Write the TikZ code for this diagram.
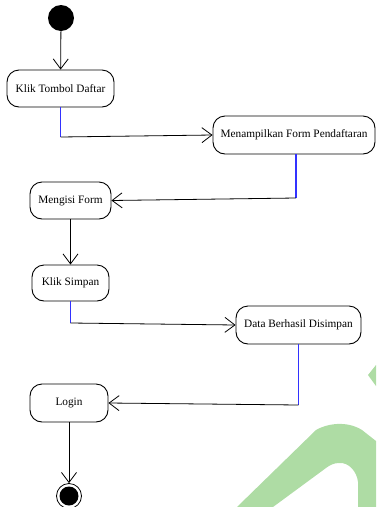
\documentclass[tikz,border=0pt]{standalone}
\usepackage{fontspec}
\setmainfont{Liberation Serif}
\usetikzlibrary{arrows.meta}

\definecolor{flowblue}{RGB}{50,50,255}
\definecolor{markgreen}{RGB}{174,220,164}

\tikzset{
  activity/.style={draw=black, line width=0.9pt, rounded corners=12pt,
    inner sep=0pt, font=\fontsize{11.3}{13}\selectfont},
  flow/.style={draw=black, line width=0.8pt,
    -{Straight Barb[length=10pt,width=15pt,line width=0.8pt]}},
  stub/.style={draw=flowblue, line width=1.2pt},
  startnode/.style={circle, fill=black, inner sep=0pt, minimum size=26pt},
  endring/.style={circle, draw=black, line width=0.8pt, fill=white, inner sep=0pt, minimum size=25pt},
  enddot/.style={circle, fill=black, inner sep=0pt, minimum size=19pt},
}

\begin{document}
\begin{tikzpicture}[x=1pt, y=-1pt]
  \useasboundingbox (0,0) rectangle (376,507);

  % pale green mark in the lower right corner
  \fill[markgreen] (368,375) -- (376,365) -- (376,386) -- cycle;
  \fill[markgreen] (237,507) -- (316,430)
      .. controls (326,424) and (346,420) .. (362,430)
      -- (376,441) -- (376,507) -- (358,507) -- (358,482)
      .. controls (357,472) and (349,462) .. (339,463)
      .. controls (334,463) and (330,465) .. (326,468)
      -- (273,507) -- cycle;

  % activities
  \node[startnode] (start) at (61,18) {};
  \node[activity, minimum width=107pt, minimum height=37pt] (a1) at (60.5,88.5) {Klik Tombol Daftar};
  \node[activity, minimum width=162pt, minimum height=38pt] (a2) at (294,135) {Menampilkan Form Pendaftaran};
  \node[activity, minimum width=81pt, minimum height=37pt] (a3) at (70.5,200.5) {Mengisi Form};
  \node[activity, minimum width=77pt, minimum height=36pt] (a4) at (70.5,283) {Klik Simpan};
  \node[activity, minimum width=125pt, minimum height=38pt] (a5) at (298.5,325) {Data Berhasil Disimpan};
  \node[activity, minimum width=78pt, minimum height=38pt] (a6) at (69,403) {Login};
  \node[endring] (stop) at (69,496) {};
  \node[enddot] at (stop.center) {};

  % bend points of the routed flows
  \coordinate (b1) at (60.5,137);
  \coordinate (b2) at (296,198);
  \coordinate (b3) at (70.5,323);
  \coordinate (b4) at (298.5,405);

  % flows
  \draw[flow] (start) -- (a1);
  \draw[stub] (a1.south) -- (b1);
  \draw[flow] (b1) -- (a2.west);
  \draw[stub] (b2 |- a2.south) -- (b2);
  \draw[flow] (b2) -- (a3.east);
  \draw[flow] (a3.south) -- (a4.north);
  \draw[stub] (b3 |- a4.south) -- (b3);
  \draw[flow] (b3) -- (a5.west);
  \draw[stub] (b4 |- a5.south) -- (b4);
  \draw[flow] (b4) -- (a6.east);
  \draw[flow] (a6.south) -- (stop.north);
\end{tikzpicture}
\end{document}
